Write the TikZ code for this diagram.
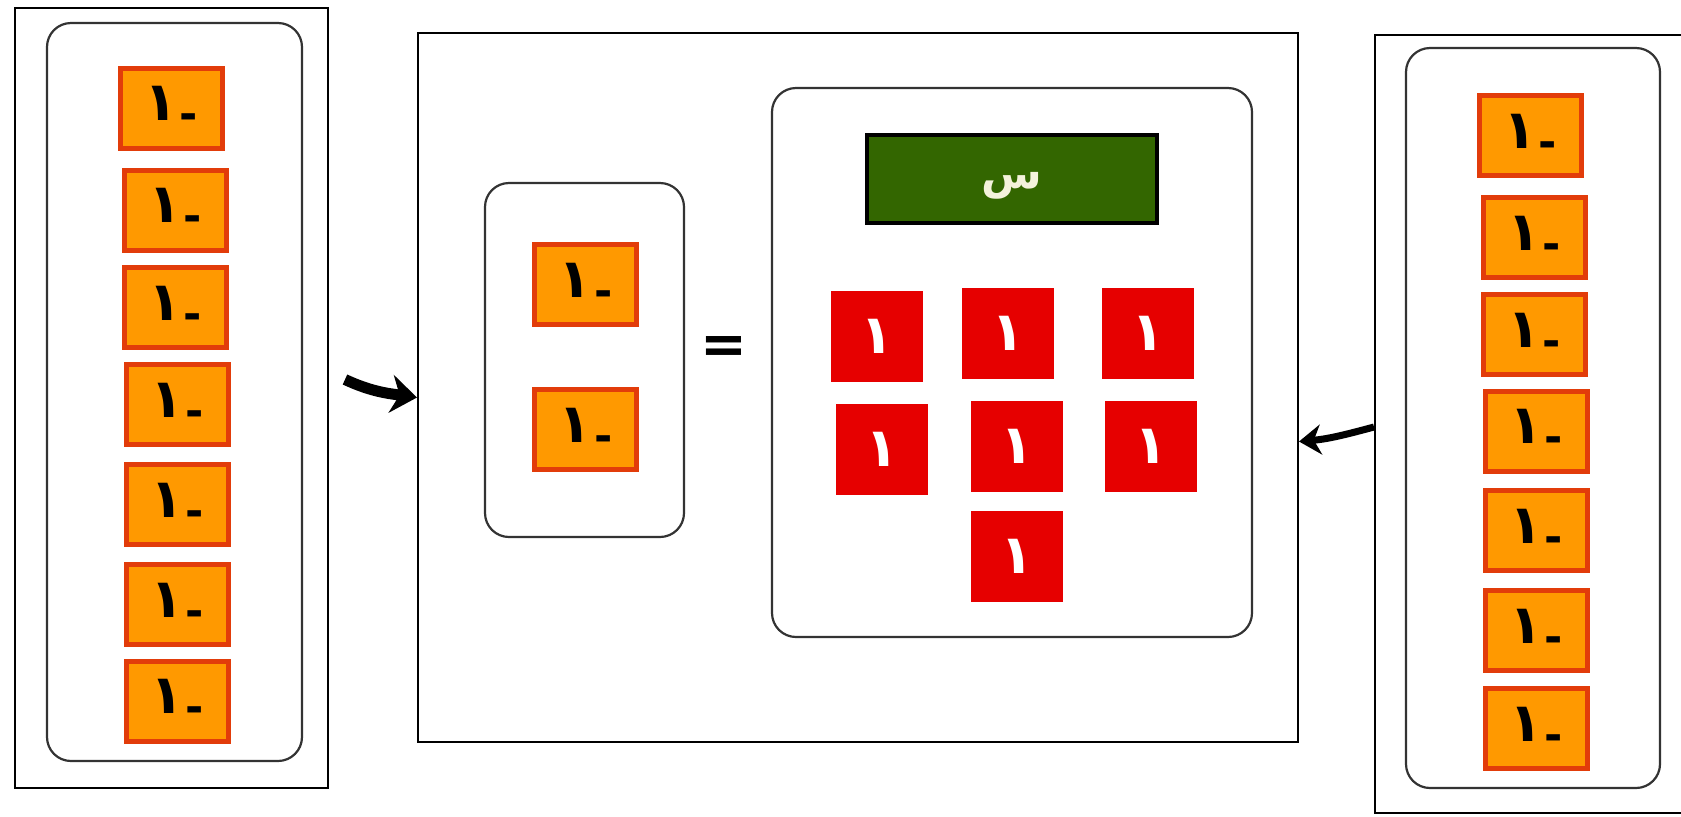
\documentclass[tikz,border=0pt]{standalone}
\usepackage{fontspec}
\newfontfamily\arabicfont[Script=Arabic]{DejaVu Sans}
\newfontfamily\symfont{DejaVu Sans}
\TeXXeTstate=1
\usetikzlibrary{arrows.meta}
\definecolor{tileor}{HTML}{FF9900}
\definecolor{tileedge}{HTML}{E23C0A}
\definecolor{redtile}{HTML}{E60000}
\definecolor{xgreen}{HTML}{336600}
\definecolor{xcream}{HTML}{F4F2DC}
\newcommand\negone{\beginR\raisebox{-0.17em}{\fontsize{22}{22}\selectfont -}\kern0.05em ١\endR}
\newcommand\posone{\beginR ١\endR}
\tikzset{
  panel/.style={draw=black, line width=1pt, inner sep=0pt},
  roundbox/.style={draw=black!80, line width=1.1pt, rounded corners=12pt, inner sep=0pt},
  negtile/.style={draw=tileedge, fill=tileor, line width=2.5pt, minimum width=51pt,
    minimum height=40pt, inner sep=0pt, font=\arabicfont\bfseries\fontsize{27}{27}\selectfont},
  postile/.style={fill=redtile, minimum width=46pt, minimum height=45.5pt, inner sep=0pt,
    text=white, font=\arabicfont\bfseries\fontsize{27}{27}\selectfont},
  xbox/.style={draw=black, fill=xgreen, line width=2pt, minimum width=145pt, minimum height=44pt,
    inner sep=0pt, text=xcream, font=\arabicfont\bfseries\fontsize{22}{22}\selectfont},
  xlabel/.style={inner sep=0pt, text=xcream, font=\arabicfont\bfseries\fontsize{22}{22}\selectfont},
  bigarrow/.style={line width=5.5pt, -{Stealth[length=13pt,width=19pt]}},
  smallarrow/.style={line width=3.5pt, -{Stealth[length=11pt,width=15pt]}},
  eqsign/.style={inner sep=0pt, font=\symfont\bfseries\fontsize{28}{28}\selectfont}
}
\begin{document}
\begin{tikzpicture}[x=0.5pt,y=-0.5pt]
\useasboundingbox (0,0) rectangle (1681,816);
% left panel
\node[panel, minimum width=156.5pt, minimum height=390pt] (L) at (171.5,397.5) {};
\node[roundbox, minimum width=127.5pt, minimum height=369pt] (Li) at (174.5,392) {};
\node[negtile] (l1) at (171,108) {\negone};
\node[negtile] (l2) at (175,210) {\negone};
\node[negtile] (l3) at (175,307.5) {\negone};
\node[negtile] (l4) at (177,404.5) {\negone};
\node[negtile] (l5) at (177,504.5) {\negone};
\node[negtile] (l6) at (177,604.5) {\negone};
\node[negtile] (l7) at (177,701) {\negone};
% center panel
\node[panel, minimum width=440pt, minimum height=354.5pt] (C) at (858,387.5) {};
\node[roundbox, minimum width=99.5pt, minimum height=177pt] (Cs) at (584.5,360) {};
\node[negtile] (c1) at (585.5,284.5) {\negone};
\node[negtile] (c2) at (585.5,429.5) {\negone};
\node[eqsign] (eq) at (724,350) {=};
\node[roundbox, minimum width=240pt, minimum height=274.5pt] (Cb) at (1012,362.5) {};
\node[xbox] (x) at (1012,179) {};
\node[xlabel] (xt) at (1012,186) {\beginR س\endR};
\node[postile] (p1) at (877,336) {\posone};
\node[postile] (p2) at (1008,333) {\posone};
\node[postile] (p3) at (1148,333) {\posone};
\node[postile] (p4) at (882,449) {\posone};
\node[postile] (p5) at (1017,446) {\posone};
\node[postile] (p6) at (1151,446) {\posone};
\node[postile] (p7) at (1017,556) {\posone};
% right panel
\node[panel, minimum width=160pt, minimum height=389pt] (R) at (1535,424) {};
\node[roundbox, minimum width=127pt, minimum height=370pt] (Ri) at (1533,418) {};
\node[negtile] (r1) at (1530,135.5) {\negone};
\node[negtile] (r2) at (1534,237.5) {\negone};
\node[negtile] (r3) at (1534,334.5) {\negone};
\node[negtile] (r4) at (1536,431) {\negone};
\node[negtile] (r5) at (1536,530.5) {\negone};
\node[negtile] (r6) at (1536,630.5) {\negone};
\node[negtile] (r7) at (1536,728.5) {\negone};
% arrows
\coordinate (la) at ([xshift=8pt,yshift=9pt]L.east);
\draw[bigarrow] (la) to[out=-25, in=172] ([yshift=-5pt]C.west);
\draw[smallarrow] ([yshift=-1.5pt]R.west) to[out=195, in=5] ([yshift=-27pt]C.east);
\end{tikzpicture}
\end{document}
